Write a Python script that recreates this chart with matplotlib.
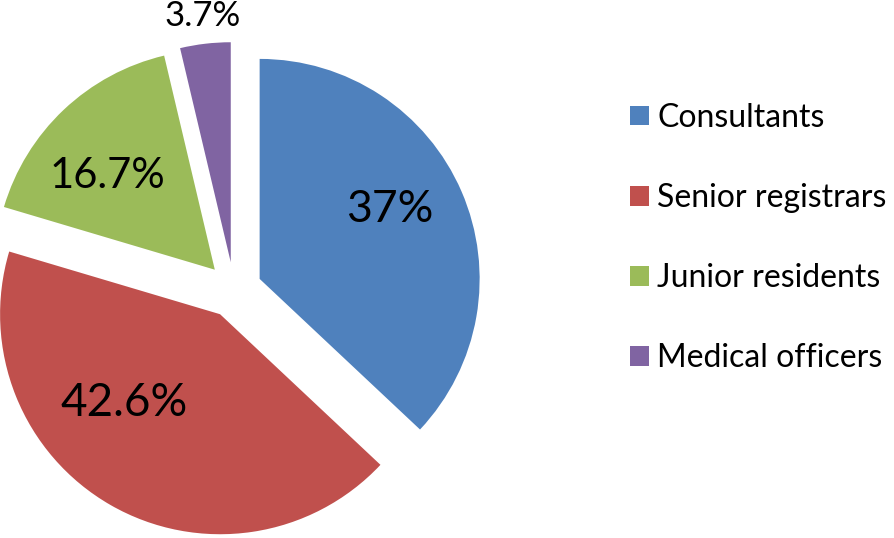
import matplotlib.pyplot as plt

labels = ["Consultants", "Senior registrars", "Junior residents", "Medical officers"]
values = [37.0, 42.6, 16.7, 3.7]
pct_text = ["37%", "42.6%", "16.7%", "3.7%"]
colors = ["#4F81BD", "#C0504D", "#9BBB59", "#8064A2"]

plt.rcParams["font.family"] = ["Lato", "DejaVu Sans"]

fig = plt.figure(figsize=(8.94, 5.38), dpi=100)
ax = fig.add_axes([0, 0, 1, 1])

# pie centre at pixel (234, 290), radius 220 px
R = 220.0
ax.axis("off")

wedges, _ = ax.pie(values, colors=colors, startangle=90, counterclock=False,
                   explode=[0.127] * 4, radius=1.0, center=(0, 0),
                   wedgeprops=dict(linewidth=0))
ax.set_xlim(-234 / R, (894 - 234) / R)
ax.set_ylim(-(538 - 290) / R, 290 / R)
ax.set_aspect("auto")

# label placement (data units) and sizes
label_xy = [(0.709, 0.364), (-0.50, -0.514), (-0.577, 0.518), (-0.141, 1.245)]
label_size = [32, 33, 30, 25]
for t, (x, y), s in zip(pct_text, label_xy, label_size):
    ax.text(x, y, t, ha="center", va="center", fontsize=s, color="black")

ax.legend(wedges, labels, loc="center left",
          bbox_to_anchor=(630 / 894, 1 - 238 / 538),
          frameon=False, fontsize=23, borderaxespad=0, borderpad=0,
          handlelength=0.58, handleheight=0.58, handletextpad=0.28,
          labelspacing=1.57)

fig.savefig("out.png", dpi=100)
